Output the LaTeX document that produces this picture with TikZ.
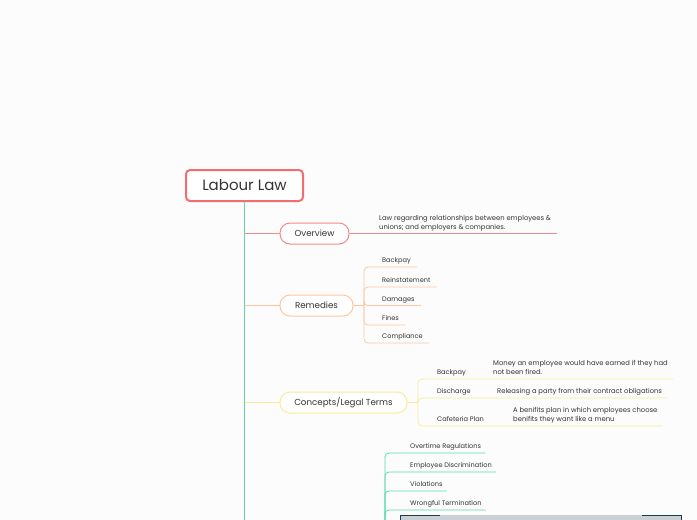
\documentclass[tikz,border=0pt]{standalone}
\usepackage{fontspec}
\setmainfont{Poppins}
\usetikzlibrary{positioning,calc}
\definecolor{bgwhite}{HTML}{FCFCFC}
\definecolor{inkgray}{HTML}{333333}
\definecolor{titlered}{HTML}{F26D6D}
\definecolor{ovred}{HTML}{F38A86}
\definecolor{remorange}{HTML}{FCC79F}
\definecolor{conyellow}{HTML}{F8EC98}
\definecolor{trunkgreen}{HTML}{58DCAA}
\definecolor{boxgray}{HTML}{C9D0D6}
\definecolor{boxnavy}{HTML}{1F3A4D}

\tikzset{
  topic/.style={draw, rounded corners=10pt, fill=white, line width=1pt, text=inkgray,
    font=\fontsize{8.7}{10}\selectfont, minimum height=21pt, inner sep=0pt},
  leaf/.style={anchor=south west, inner xsep=0pt, inner ysep=2.5pt, text=inkgray,
    text depth=1.6pt, font=\fontsize{6.6}{8}\selectfont},
  note/.style={anchor=south west, inner xsep=0pt, inner ysep=2.5pt, text=inkgray,
    text depth=1.6pt, font=\fontsize{6.8}{9}\selectfont, align=left},
  branch/.style={line width=1pt, rounded corners=4pt},
}

\begin{document}
\begin{tikzpicture}[x=1pt, y=-1pt]

\useasboundingbox (0,0) rectangle (697,520);
\clip (0,0) rectangle (697,520);
\fill[bgwhite] (0,0) rectangle (697,520);

% central topic and trunk
\node[draw=titlered, line width=2pt, rounded corners=4pt, fill=white, text=inkgray,
  font=\fontsize{15}{18}\selectfont, minimum width=117pt, minimum height=31pt]
  (title) at (244.5, 185.5) {Labour Law};
\coordinate (trunkend) at (244.5, 530);
\draw[trunkgreen, line width=1.5pt] (title.south) -- (trunkend);

% Overview
\node[topic, draw=ovred, minimum width=69pt] (ov) at (314.5, 233.5) {Overview};
\draw[ovred, branch] (title.south |- ov) -- (ov.west);
\node[note] (ovd) at (379, 233.5) {Law regarding relationships between employees \&\\unions; and employers \& companies.};
\draw[ovred, line width=0.8pt] (ov.east) -- ([xshift=6pt]ovd.south east);

% Remedies
\node[topic, draw=remorange, minimum width=73pt] (rem) at (316.5, 305.5) {Remedies};
\draw[remorange, branch] (title.south |- rem) -- (rem.west);
\coordinate (remj) at (364, 305.5);
\draw[remorange, line width=0.8pt] (rem.east) -- (remj);
\node[leaf] (r1) at (382, 267) {Backpay};
\node[leaf] (r2) at (382, 287) {Reinstatement};
\node[leaf] (r3) at (382, 305.5) {Damages};
\node[leaf] (r4) at (382, 325) {Fines};
\node[leaf] (r5) at (382, 343) {Compliance};
\foreach \n in {r1,r2,r3,r4,r5}
  \draw[remorange, line width=0.8pt, rounded corners=4pt] (remj) |- ([xshift=6pt]\n.south east);

% Concepts/Legal Terms
\node[topic, draw=conyellow, minimum width=127pt] (con) at (343.5, 402.5) {Concepts/Legal Terms};
\draw[conyellow, branch] (title.south |- con) -- (con.west);
\coordinate (conj) at (418, 402.5);
\draw[conyellow, line width=0.8pt] (con.east) -- (conj);
\node[leaf] (c1) at (437, 379) {Backpay};
\node[note] (c1d) at (493, 379) {Money an employee would have earned if they had\\not been fired.};
\node[leaf] (c2) at (437, 398) {Discharge};
\node[note] (c2d) at (497, 398) {Releasing a party from their contract obligations};
\node[leaf] (c3) at (437, 426) {Cafeteria Plan};
\node[note] (c3d) at (513, 426) {A benifits plan in which employees choose\\benifits they want like a menu};
\foreach \n in {c1d,c2d,c3d}
  \draw[conyellow, line width=0.8pt, rounded corners=4pt] (conj) |- ([xshift=5pt]\n.south east);

% fourth topic (cut off below)
\coordinate (grnj) at (385, 560);
\node[leaf] (g1) at (410, 453) {Overtime Regulations};
\node[leaf] (g2) at (410, 472) {Employee Discrimination};
\node[leaf] (g3) at (410, 491) {Violations};
\node[leaf] (g4) at (410, 510) {Wrongful Termination};
\foreach \n in {g1,g2,g3,g4}
  \draw[trunkgreen, line width=0.8pt, rounded corners=4pt] (grnj) |- ([xshift=4pt]\n.south east);

% image box at the bottom edge
\fill[boxgray] (400,515) rectangle (681,530);
\draw[boxnavy, line width=1pt] (400,530) -- (400,515) -- (440,515);
\draw[boxnavy, line width=1pt] (642,515) -- (681,515) -- (681,530);

\end{tikzpicture}
\end{document}
